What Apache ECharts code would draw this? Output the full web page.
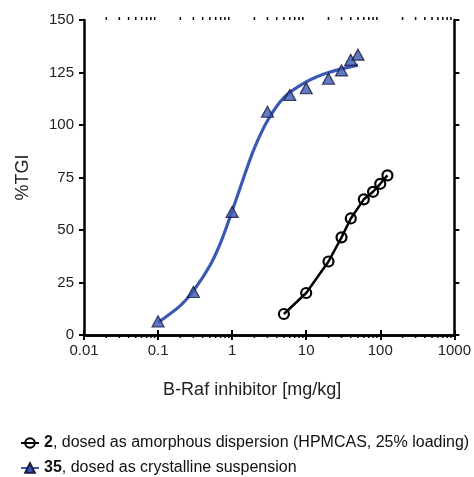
<!DOCTYPE html>
<html><head><meta charset="utf-8">
<script src="https://cdn.jsdelivr.net/npm/echarts@6/dist/echarts.min.js"></script>
<style>html,body{margin:0;padding:0;background:#fff}#c{width:474px;height:477px}</style>
</head><body><div id="c"></div>
<script>
// ---- data ----
const amorphousDose = [5, 10, 20, 30, 40, 60, 80, 100, 125];
const amorphousTGI  = [10, 20, 35, 46.5, 55.5, 64.6, 68.2, 72, 76];
const crystDose = [0.1, 0.3, 1, 3, 6, 10, 20, 30, 40, 50];
const crystTGI  = [6.5, 20.5, 58.6, 106.3, 114.3, 117.5, 122, 126, 131, 133.5];
const fitDose = [0.1, 0.2, 0.3, 0.5, 0.7, 1, 1.5, 2, 3, 5, 10, 20, 50];
const fitTGI  = [6, 14, 21, 33, 44, 59, 77, 89, 102, 113, 120.5, 125, 128.5];
const xTickLabels = ['0.01', '0.1', '1', '10', '100', '1000'];
const yTickLabels = ['0', '25', '50', '75', '100', '125', '150'];
const legendNames = ['2', '35'];
const legendTexts = [', dosed as amorphous dispersion (HPMCAS, 25% loading)', ', dosed as crystalline suspension'];
const minorMantissas = [2, 3, 4, 5, 6, 7, 8, 9];
const decades = [0.01, 0.1, 1, 10, 100];

const FONT = '"Liberation Sans", Arial, sans-serif';
const BLUE = '#3a59b3';
const minorVals = [];
decades.forEach(d => minorMantissas.forEach(m => minorVals.push([+(d * m).toPrecision(3), 0])));

const chart = echarts.init(document.getElementById('c'), null, {renderer: 'canvas'});
const axisLine = {show: true, lineStyle: {color: '#000', width: 2.5}};
const tickStyle = {color: '#000', width: 2};
const legendBase = (name, top) => ({
  orient: 'vertical', left: 15, top: top, itemWidth: 18, itemHeight: 12,
  data: [name],
  textStyle: {fontSize: 16, color: '#111', fontFamily: FONT,
    rich: {b: {fontWeight: 'bold', fontSize: 16, color: '#111', fontFamily: FONT}}},
  formatter: n => '{b|' + n + '}' + legendTexts[legendNames.indexOf(n)]
});
chart.setOption({
  animation: false,
  grid: {left: 84, right: 16, top: 20, bottom: 142},
  xAxis: [{
    type: 'log', logBase: 10, min: 0.01, max: 1000, position: 'bottom',
    axisLine, splitLine: {show: false},
    axisTick: {show: true, inside: false, length: 5, lineStyle: tickStyle},
    axisLabel: {fontSize: 15, color: '#222', fontFamily: FONT, margin: 8,
      formatter: v => xTickLabels[Math.round(Math.log10(v)) + 2]},
    name: 'B-Raf inhibitor [mg/kg]', nameLocation: 'middle', nameGap: 46,
    nameTextStyle: {fontSize: 18, color: '#222', fontFamily: FONT, padding: [0, 34, 0, 0]}
  }, {
    type: 'log', logBase: 10, min: 0.01, max: 1000, position: 'top',
    axisLine, splitLine: {show: false},
    axisTick: {show: true, inside: false, length: 5, lineStyle: tickStyle},
    axisLabel: {show: false}
  }],
  yAxis: [{
    type: 'value', min: 0, max: 150, interval: 25, position: 'left',
    axisLine, splitLine: {show: false},
    axisTick: {show: true, inside: false, length: 5, lineStyle: tickStyle},
    axisLabel: {fontSize: 15, color: '#222', fontFamily: FONT, margin: 10,
      formatter: v => yTickLabels[Math.round(v / 25)]},
    name: '%TGI', nameLocation: 'middle', nameGap: 52,
    nameTextStyle: {fontSize: 18, color: '#222', fontFamily: FONT}
  }, {
    type: 'value', min: 0, max: 150, interval: 25, position: 'right',
    axisLine, splitLine: {show: false},
    axisTick: {show: true, inside: false, length: 5, lineStyle: tickStyle},
    axisLabel: {show: false}
  }],
  legend: [legendBase(legendNames[0], 430), legendBase(legendNames[1], 455)],
  series: [{
    type: 'custom', name: 'minor', silent: true, clip: false, z: 1,
    xAxisIndex: 0, yAxisIndex: 0,
    data: minorVals,
    renderItem: (params, api) => {
      const x = api.coord([api.value(0), 0])[0];
      const yb = api.coord([1, 0])[1];
      const yt = api.coord([1, 150])[1];
      const st = {stroke: '#000', lineWidth: 1.5};
      return {type: 'group', children: [
        {type: 'line', shape: {x1: x, y1: yb, x2: x, y2: yb + 3}, style: st},
        {type: 'line', shape: {x1: x, y1: yt, x2: x, y2: yt - 3}, style: st}
      ]};
    }
  }, {
    name: '35', type: 'line', smooth: 0.35, symbol: 'triangle', showSymbol: false,
    symbolSize: 12, z: 3,
    data: fitDose.map((d, i) => [d, fitTGI[i]]),
    lineStyle: {color: BLUE, width: 3.2},
    itemStyle: {color: BLUE, borderColor: '#1a1a40', borderWidth: 1}
  }, {
    name: '35 data', type: 'scatter', symbol: 'triangle', symbolSize: [12, 11], z: 4,
    data: crystDose.map((d, i) => [d, crystTGI[i]]),
    itemStyle: {color: BLUE, borderColor: '#14143a', borderWidth: 1.2}
  }, {
    name: '2', type: 'line', symbol: 'circle', symbolSize: 10, showSymbol: true, z: 5,
    data: amorphousDose.map((d, i) => [d, amorphousTGI[i]]),
    lineStyle: {color: '#000', width: 2.5},
    itemStyle: {color: 'rgba(255,255,255,0)', borderColor: '#000', borderWidth: 2.2}
  }]
});
</script></body></html>
